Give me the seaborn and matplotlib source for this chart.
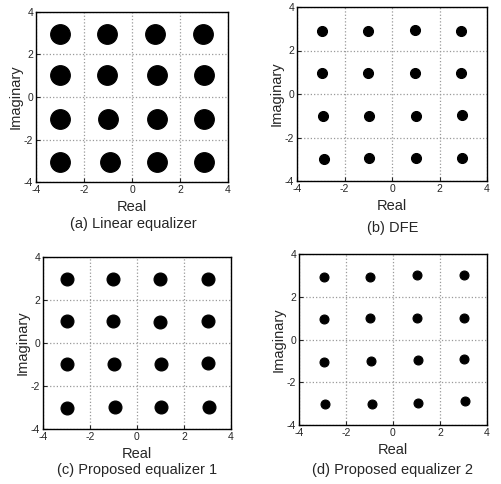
import matplotlib
matplotlib.use("Agg")
import matplotlib.pyplot as plt
import seaborn as sns
import pandas as pd

## Cluster centres of the 16-QAM constellation
## (real, imaginary), row by row from the top
lin_re = [-3.0, -1.03, 0.96, 2.94, -3.0, -1.03, 1.03, 3.0, -3.0, -0.99, 1.03, 3.0, -3.0, -0.92, 1.06, 2.98]
lin_im = [2.98, 2.98, 2.98, 2.98, 1.02, 1.02, 1.02, 1.02, -1.02, -1.02, -1.02, -1.02, -3.06, -3.06, -3.06, -3.06]

dfe_re = [-2.95, -0.99, 0.95, 2.9, -2.95, -0.99, 0.95, 2.9, -2.91, -0.97, 0.99, 2.94, -2.88, -0.95, 0.99, 2.94]
dfe_im = [2.9, 2.9, 2.92, 2.9, 0.95, 0.95, 0.95, 0.97, -1.01, -1.01, -1.01, -0.97, -3.0, -2.95, -2.95, -2.95]

pe1_re = [-3.0, -1.01, 0.98, 3.0, -3.0, -1.01, 0.98, 3.03, -3.0, -0.98, 1.04, 3.0, -3.0, -0.95, 1.04, 3.06]
pe1_im = [2.97, 2.97, 3.0, 2.97, 1.02, 1.02, 1.0, 1.02, -0.97, -0.97, -0.97, -0.92, -3.03, -2.97, -2.97, -2.97]

pe2_re = [-2.95, -0.96, 1.02, 3.0, -2.95, -0.96, 1.02, 3.03, -2.92, -0.94, 1.05, 3.03, -2.89, -0.91, 1.08, 3.06]
pe2_im = [2.94, 2.94, 3.0, 3.0, 0.96, 1.0, 1.0, 1.0, -1.05, -1.0, -0.97, -0.92, -3.03, -3.03, -2.97, -2.9]

## Approximate cluster diameters (in signal units) for each equalizer
spread = [0.82, 0.42, 0.55, 0.38]

captions = ["(a) Linear equalizer", "(b) DFE",
            "(c) Proposed equalizer 1", "(d) Proposed equalizer 2"]
ticks = [-4, -2, 0, 2, 4]

panels = [(lin_re, lin_im), (dfe_re, dfe_im), (pe1_re, pe1_im), (pe2_re, pe2_im)]

sns.set_style("ticks")
plt.rcParams["font.family"] = ["Liberation Sans", "DejaVu Sans"]
plt.rcParams["axes.unicode_minus"] = False

W, H = 501, 484
fig = plt.figure(figsize=(W / 100, H / 100), dpi=100)

# axes boxes in pixels: left, top, right, bottom
boxes = [(36, 12, 228, 182), (297, 7, 487, 181), (43, 257, 231, 429), (299, 254, 487, 425)]
cap_pos = [(133, 224), (393, 228), (137, 470), (393, 470)]

for (re, im), box, cap, cp, d in zip(panels, boxes, captions, cap_pos, spread):
    l, t, r, b = box
    ax = fig.add_axes([l / W, 1 - b / H, (r - l) / W, (b - t) / H])
    ax.set_xlim(-4, 4)
    ax.set_ylim(-4, 4)
    px_unit = (r - l) / 8.0
    size_pt = d * px_unit * 0.72
    df = pd.DataFrame({"Real": re, "Imaginary": im})
    sns.scatterplot(data=df, x="Real", y="Imaginary", ax=ax, color="black",
                    s=size_pt ** 2, edgecolor="black", linewidth=0.8, zorder=3)
    ax.set_xticks(ticks)
    ax.set_yticks(ticks)
    ax.grid(True, linestyle=":", color="#999999", linewidth=0.9)
    ax.tick_params(direction="in", length=3, labelsize=7.5, pad=2, width=0.8)
    for s in ax.spines.values():
        s.set_linewidth(1.0)
        s.set_color("black")
    ax.set_xlabel("Real", fontsize=10.5, labelpad=4)
    ax.set_ylabel("Imaginary", fontsize=10.5, labelpad=1)
    fig.text(cp[0] / W, 1 - cp[1] / H, cap, ha="center", va="center", fontsize=10.5)

fig.savefig("out.png", dpi=100)
